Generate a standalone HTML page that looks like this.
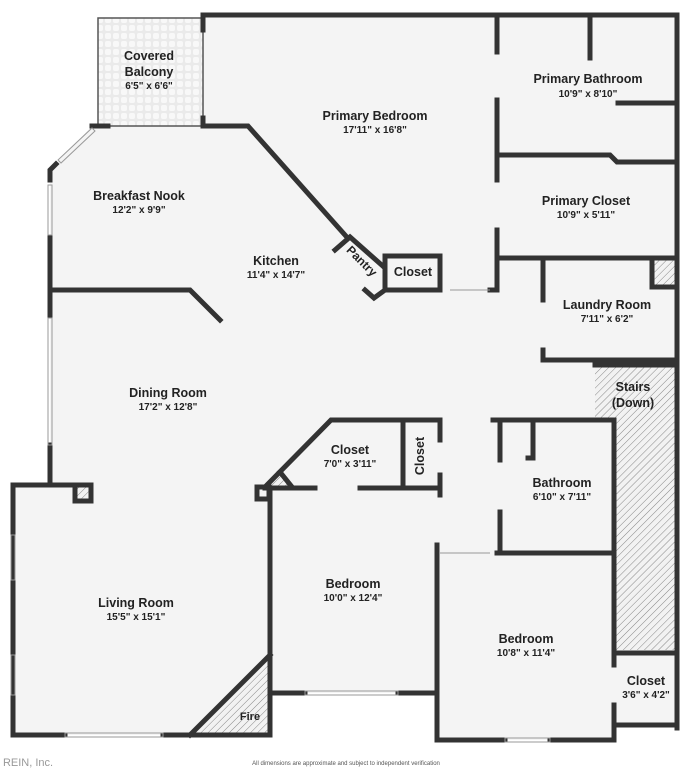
<!DOCTYPE html>
<html><head><meta charset="utf-8"><style>
html,body{margin:0;padding:0;background:#fff;}
svg{display:block;}
text{font-family:"Liberation Sans",sans-serif;fill:#222;text-anchor:middle;}
.n{font-size:12.5px;font-weight:bold;}
.d{font-size:10px;font-weight:bold;}
</style></head><body>
<svg width="692" height="768" viewBox="0 0 692 768" xmlns="http://www.w3.org/2000/svg">
<defs>
<pattern id="h" width="5" height="5" patternUnits="userSpaceOnUse" patternTransform="rotate(45)">
<rect width="5" height="5" fill="#f2f2f2"/><line x1="0" y1="0" x2="0" y2="5" stroke="#888" stroke-width="1"/></pattern>
<pattern id="t" width="8" height="8" patternUnits="userSpaceOnUse">
<rect width="8" height="8" fill="#eaeaea"/><rect x="1" y="1" width="6" height="6" rx="2" fill="#f8f8f8"/></pattern>
</defs>
<g fill="#f4f4f4">
<rect x="203" y="15" width="474" height="280"/>
<rect x="13" y="485" width="257" height="250"/>
<rect x="270" y="420" width="170" height="273"/>
<rect x="437" y="290" width="177" height="450"/>
<rect x="614" y="290" width="63" height="435"/>
<polygon points="50,170 92,126 450,126 450,486 50,486"/>
</g>
<rect x="98" y="18" width="105" height="108" fill="url(#t)" stroke="#555" stroke-width="1.5"/>
<polygon points="595,365 677,365 677,650 614,650 614,420 595,420" fill="url(#h)"/>
<polygon points="190,735 270,655 270,735" fill="url(#h)"/>
<rect x="652" y="260" width="25" height="27" fill="url(#h)"/>
<polygon points="265,487 280,472 292,487" fill="url(#h)"/>
<rect x="75" y="485" width="16" height="16" fill="url(#h)"/>
<g stroke="#333" stroke-width="5" fill="none" stroke-linecap="square">
<polyline points="203,30 203,15 677,15 677,728"/>
<line x1="203" y1="118" x2="203" y2="126"/>
<polyline points="203,126 248,126 345,235"/>
<polyline points="92,126 108,126"/>
<polyline points="50,180 50,170 56,164"/>
<line x1="50" y1="237" x2="50" y2="315"/>
<line x1="50" y1="445" x2="50" y2="485"/>
<polyline points="50,290 190,290 220,320"/>
<polyline points="335,250 350,237 385,268 385,290 374,298 365,290"/>
<rect x="385" y="256" width="55" height="34"/>
<line x1="497" y1="15" x2="497" y2="52"/>
<line x1="497" y1="100" x2="497" y2="180"/>
<line x1="497" y1="230" x2="497" y2="290"/>
<line x1="490" y1="290" x2="497" y2="290"/>
<line x1="590" y1="15" x2="590" y2="58"/>
<line x1="618" y1="103" x2="677" y2="103"/>
<polyline points="497,155 610,155 617,162 677,162"/>
<line x1="497" y1="258" x2="677" y2="258"/>
<polyline points="543,258 543,300"/>
<polyline points="543,350 543,360 677,360"/>
<polyline points="652,258 652,287 677,287"/>
<polyline points="50,485 13,485 13,735 65,735"/>
<line x1="163" y1="735" x2="270" y2="735"/>
<rect x="75" y="485" width="16" height="16"/>
<line x1="50" y1="485" x2="91" y2="485"/>
<polyline points="190,735 270,655"/>
<line x1="270" y1="490" x2="270" y2="735"/>
<rect x="257" y="487" width="12" height="12"/>
<polyline points="265,487 331,420 440,420 440,440"/>
<line x1="440" y1="475" x2="440" y2="495"/>
<line x1="403" y1="420" x2="403" y2="488"/>
<line x1="280" y1="472" x2="292" y2="487"/>
<line x1="265" y1="488" x2="315" y2="488"/>
<line x1="360" y1="488" x2="440" y2="488"/>
<line x1="270" y1="693" x2="305" y2="693"/>
<line x1="398" y1="693" x2="437" y2="693"/>
<line x1="437" y1="545" x2="437" y2="740"/>
<line x1="437" y1="740" x2="505" y2="740"/>
<line x1="550" y1="740" x2="614" y2="740"/>
<line x1="614" y1="705" x2="614" y2="740"/>
<line x1="614" y1="553" x2="614" y2="665"/>
<line x1="497" y1="553" x2="614" y2="553"/>
<polyline points="493,420 614,420 614,553"/>
<line x1="500" y1="420" x2="500" y2="460"/>
<line x1="500" y1="512" x2="500" y2="553"/>
<polyline points="533,420 533,458 528,458"/>
<polyline points="614,653 677,653"/>
<polyline points="614,725 677,725"/>
<polyline points="595,365 677,365"/>
</g>
<g stroke="#999" stroke-width="1" fill="none">
<polygon points="58,160 92,128 95,131 61,163"/>
<rect x="48" y="185" width="4" height="50"/>
<rect x="48" y="318" width="4" height="127"/>
<rect x="11" y="535" width="4" height="45"/>
<rect x="11" y="655" width="4" height="40"/>
<rect x="65" y="733" width="98" height="4"/>
<rect x="305" y="691" width="93" height="4"/>
<rect x="505" y="738" width="45" height="4"/>
<line x1="450" y1="290" x2="490" y2="290"/>
<line x1="440" y1="553" x2="490" y2="553"/>
</g>
<text class="n" x="149" y="60">Covered</text>
<text class="n" x="149" y="76">Balcony</text>
<text class="d" x="149" y="89">6'5" x 6'6"</text>
<text class="n" x="375" y="120">Primary Bedroom</text>
<text class="d" x="375" y="133">17'11" x 16'8"</text>
<text class="n" x="588" y="83">Primary Bathroom</text>
<text class="d" x="588" y="97">10'9" x 8'10"</text>
<text class="n" x="586" y="205">Primary Closet</text>
<text class="d" x="586" y="218">10'9" x 5'11"</text>
<text class="n" x="139" y="200">Breakfast Nook</text>
<text class="d" x="139" y="213">12'2" x 9'9"</text>
<text class="n" x="276" y="265">Kitchen</text>
<text class="d" x="276" y="278">11'4" x 14'7"</text>
<text class="n" x="0" y="0" transform="translate(359,264) rotate(45)" style="font-size:12px">Pantry</text>
<text class="n" x="413" y="276">Closet</text>
<text class="n" x="607" y="309">Laundry Room</text>
<text class="d" x="607" y="322">7'11" x 6'2"</text>
<text class="n" x="633" y="391">Stairs</text>
<text class="n" x="633" y="407">(Down)</text>
<text class="n" x="168" y="397">Dining Room</text>
<text class="d" x="168" y="410">17'2" x 12'8"</text>
<text class="n" x="350" y="454">Closet</text>
<text class="d" x="350" y="467">7'0" x 3'11"</text>
<text class="n" x="0" y="0" transform="translate(424,456) rotate(-90)">Closet</text>
<text class="n" x="562" y="487">Bathroom</text>
<text class="d" x="562" y="500">6'10" x 7'11"</text>
<text class="n" x="353" y="588">Bedroom</text>
<text class="d" x="353" y="601">10'0" x 12'4"</text>
<text class="n" x="136" y="607">Living Room</text>
<text class="d" x="136" y="620">15'5" x 15'1"</text>
<text class="n" x="526" y="643">Bedroom</text>
<text class="d" x="526" y="656">10'8" x 11'4"</text>
<text class="n" x="646" y="685">Closet</text>
<text class="d" x="646" y="698">3'6" x 4'2"</text>
<text class="n" x="250" y="720" style="font-size:11px">Fire</text>
<text x="28" y="766" style="font-size:11px;fill:#999">REIN, Inc.</text>
<text x="346" y="765" style="font-size:6px;fill:#555">All dimensions are approximate and subject to independent verification</text>
</svg>
</body></html>
